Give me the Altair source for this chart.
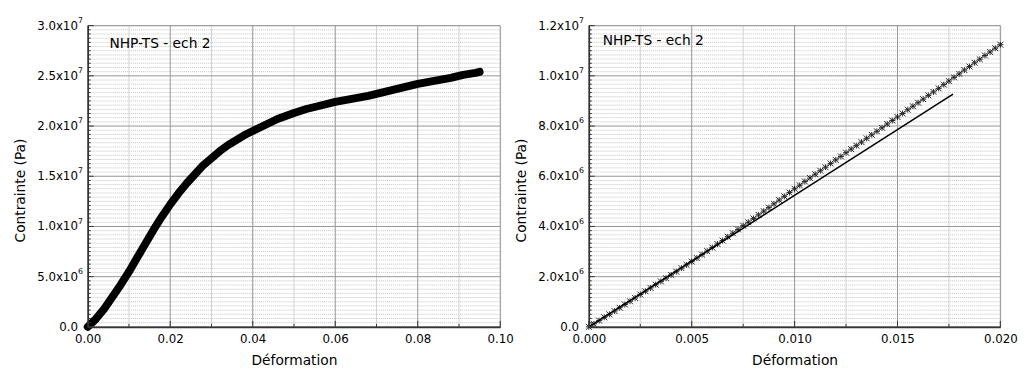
import altair as alt
import pandas as pd

FONT = "DejaVu Sans"
LABEL = "NHP-TS - ech 2"

# ---------------- data ----------------
left_strain = [0.000, 0.002, 0.004, 0.006, 0.008, 0.010, 0.012, 0.014, 0.016, 0.018,
               0.020, 0.022, 0.024, 0.026, 0.028, 0.030, 0.032, 0.034, 0.036, 0.038,
               0.040, 0.042, 0.044, 0.046, 0.048, 0.050, 0.053, 0.056, 0.060, 0.064,
               0.068, 0.072, 0.076, 0.080, 0.084, 0.088, 0.091, 0.094, 0.095]
left_stress_1e7 = [0.00, 0.08, 0.18, 0.30, 0.42, 0.55, 0.69, 0.83, 0.97, 1.10,
                   1.22, 1.33, 1.43, 1.52, 1.61, 1.68, 1.75, 1.81, 1.86, 1.91,
                   1.95, 1.99, 2.03, 2.07, 2.10, 2.13, 2.17, 2.20, 2.24, 2.27,
                   2.30, 2.34, 2.38, 2.42, 2.45, 2.48, 2.51, 2.53, 2.54]

right_strain = [round(i * 0.00025, 5) for i in range(81)]
right_stress_1e6 = [0.00, 0.12, 0.25, 0.38, 0.50, 0.63, 0.76, 0.89, 1.02, 1.15,
                    1.29, 1.42, 1.55, 1.68, 1.81, 1.94, 2.07, 2.20, 2.34, 2.47,
                    2.60, 2.74, 2.88, 3.02, 3.16, 3.30, 3.44, 3.59, 3.73, 3.88,
                    4.03, 4.17, 4.32, 4.46, 4.61, 4.75, 4.90, 5.05, 5.20, 5.35,
                    5.50, 5.64, 5.79, 5.93, 6.08, 6.22, 6.36, 6.51, 6.65, 6.79,
                    6.94, 7.08, 7.22, 7.36, 7.51, 7.65, 7.79, 7.93, 8.08, 8.22,
                    8.36, 8.50, 8.65, 8.79, 8.93, 9.07, 9.22, 9.36, 9.50, 9.65,
                    9.79, 9.94, 10.08, 10.23, 10.37, 10.52, 10.66, 10.81, 10.95, 11.10,
                    11.24]

fit_strain = [0.0, 0.0177]
fit_stress = [0.0, 9.27e6]

# ---------------- axes / tick labels ----------------
left_x_ticks = [0.0, 0.02, 0.04, 0.06, 0.08, 0.10]
left_x_minor = [0.01, 0.03, 0.05, 0.07, 0.09]
left_y_ticks = [0.0, 5e6, 1e7, 1.5e7, 2e7, 2.5e7, 3e7]
left_y_base = ["0.0", "5.0x10", "1.0x10", "1.5x10", "2.0x10", "2.5x10", "3.0x10"]
left_y_exp = ["", "6", "7", "7", "7", "7", "7"]

right_x_ticks = [0.0, 0.005, 0.010, 0.015, 0.020]
right_x_minor = [0.0025, 0.0075, 0.0125, 0.0175]
right_y_ticks = [0.0, 2e6, 4e6, 6e6, 8e6, 1e7, 1.2e7]
right_y_base = ["0.0", "2.0x10", "4.0x10", "6.0x10", "8.0x10", "1.0x10", "1.2x10"]
right_y_exp = ["", "6", "6", "6", "6", "7", "7"]

N_MINOR = 12


def panel(W, H, xdom, ydom, xt, xminor, xfmt, yt, ybase, yexp, data_layers, lab_x, lab_y):
    xs = alt.Scale(domain=xdom, nice=False, zero=False)
    ys = alt.Scale(domain=ydom, nice=False, zero=False)
    xaxis = alt.Axis(values=xt, format=xfmt, title="Déformation", grid=False, ticks=False,
                     labelFont=FONT, labelFontSize=12, labelColor="black", labelPadding=7,
                     labelFlush=False, titleFont=FONT, titleFontSize=14, titleFontWeight="normal",
                     titleColor="black", titlePadding=9, domainColor="#333333", domainWidth=1.6,
                     zindex=2)
    yaxis = alt.Axis(values=yt, labels=False, ticks=False, grid=False, title="Contrainte (Pa)",
                     titleFont=FONT, titleFontSize=14, titleFontWeight="normal", titleColor="black",
                     titlePadding=61, titleY=H / 2 + 14, domainColor="#333333", domainWidth=1.6,
                     zindex=2)
    X = alt.X("x:Q", scale=xs, axis=xaxis)
    Y = alt.Y("y:Q", scale=ys, axis=yaxis)

    step = yt[1] - yt[0]
    y_minor = [yt[0] + k * step / N_MINOR for k in range((len(yt) - 1) * N_MINOR + 1)]
    y_minor = [v for v in y_minor if all(abs(v - t) > 1e-6 * step for t in yt)]

    hminor = alt.Chart(pd.DataFrame({"y": y_minor})).mark_rule(
        color="#c4c4c4", strokeWidth=1, strokeDash=[1, 1]).encode(y=Y)
    vminor = alt.Chart(pd.DataFrame({"x": xminor})).mark_rule(
        color="#d2d2d2", strokeWidth=1).encode(x=X)
    hmajor = alt.Chart(pd.DataFrame({"y": yt})).mark_rule(
        color="#959595", strokeWidth=1).encode(y=Y)
    vmajor = alt.Chart(pd.DataFrame({"x": xt})).mark_rule(
        color="#959595", strokeWidth=1).encode(x=X)

    yticks_minor = alt.Chart(pd.DataFrame({"y": y_minor})).mark_rule(
        color="#333333", strokeWidth=1).encode(y=Y, x=alt.value(0), x2=alt.value(3))
    yticks_major = alt.Chart(pd.DataFrame({"y": yt})).mark_rule(
        color="#333333", strokeWidth=1).encode(y=Y, x=alt.value(0), x2=alt.value(6))
    xticks_minor = alt.Chart(pd.DataFrame({"x": xminor})).mark_rule(
        color="#333333", strokeWidth=1).encode(x=X, y=alt.value(H), y2=alt.value(H - 3))
    xticks_major = alt.Chart(pd.DataFrame({"x": xt})).mark_rule(
        color="#333333", strokeWidth=1).encode(x=X, y=alt.value(H), y2=alt.value(H - 6))

    lab_df = pd.DataFrame({"y": yt, "b": ybase, "e": yexp})
    ylab = alt.Chart(lab_df).mark_text(
        align="right", baseline="middle", font=FONT, fontSize=12, color="black").encode(
        y=Y, x=alt.value(-10), text="b:N")
    yexp_t = alt.Chart(lab_df).mark_text(
        align="left", baseline="middle", font=FONT, fontSize=8, color="black", dy=-5).encode(
        y=Y, x=alt.value(-10), text="e:N")

    note = alt.Chart(pd.DataFrame({"t": [LABEL]})).mark_text(
        align="left", baseline="middle", font=FONT, fontSize=14, color="black").encode(
        x=alt.value(lab_x), y=alt.value(lab_y), text="t:N")

    layers = [hminor, vminor, hmajor, vmajor]
    layers += [lay(X, Y) for lay in data_layers]
    layers += [yticks_minor, yticks_major, xticks_minor, xticks_major, ylab, yexp_t, note]
    return alt.layer(*layers).properties(width=W, height=H)


left_df = pd.DataFrame({"x": left_strain, "y": [v * 1e7 for v in left_stress_1e7]})
right_df = pd.DataFrame({"x": right_strain, "y": [v * 1e6 for v in right_stress_1e6]})
fit_df = pd.DataFrame({"x": fit_strain, "y": fit_stress})


def left_curve(X, Y):
    return alt.Chart(left_df).mark_line(
        color="black", strokeWidth=8, strokeCap="round", strokeJoin="round").encode(x=X, y=Y)


def right_points(X, Y):
    return alt.Chart(right_df).mark_point(
        shape="M-1,-1L1,1M-1,1L1,-1M-1,0L1,0M0,-1L0,1", size=36, filled=False, color="black",
        strokeWidth=1, opacity=0.85).encode(x=X, y=Y)


def right_fit(X, Y):
    return alt.Chart(fit_df).mark_line(color="black", strokeWidth=1.5).encode(x=X, y=Y)


left = panel(419, 306, [0, 0.1], [0, 3e7], left_x_ticks, left_x_minor, ".2f",
             left_y_ticks, left_y_base, left_y_exp, [left_curve], 22, 19)
right = panel(418, 306, [0, 0.02], [0, 1.2e7], right_x_ticks, right_x_minor, ".3f",
              right_y_ticks, right_y_base, right_y_exp, [right_points, right_fit], 14, 16)

chart = alt.hconcat(left, right, spacing=0).configure_view(
    stroke="#999999", strokeWidth=1).configure(background="white")

chart.save("out.html", embed_options={"renderer": "svg", "actions": False})
